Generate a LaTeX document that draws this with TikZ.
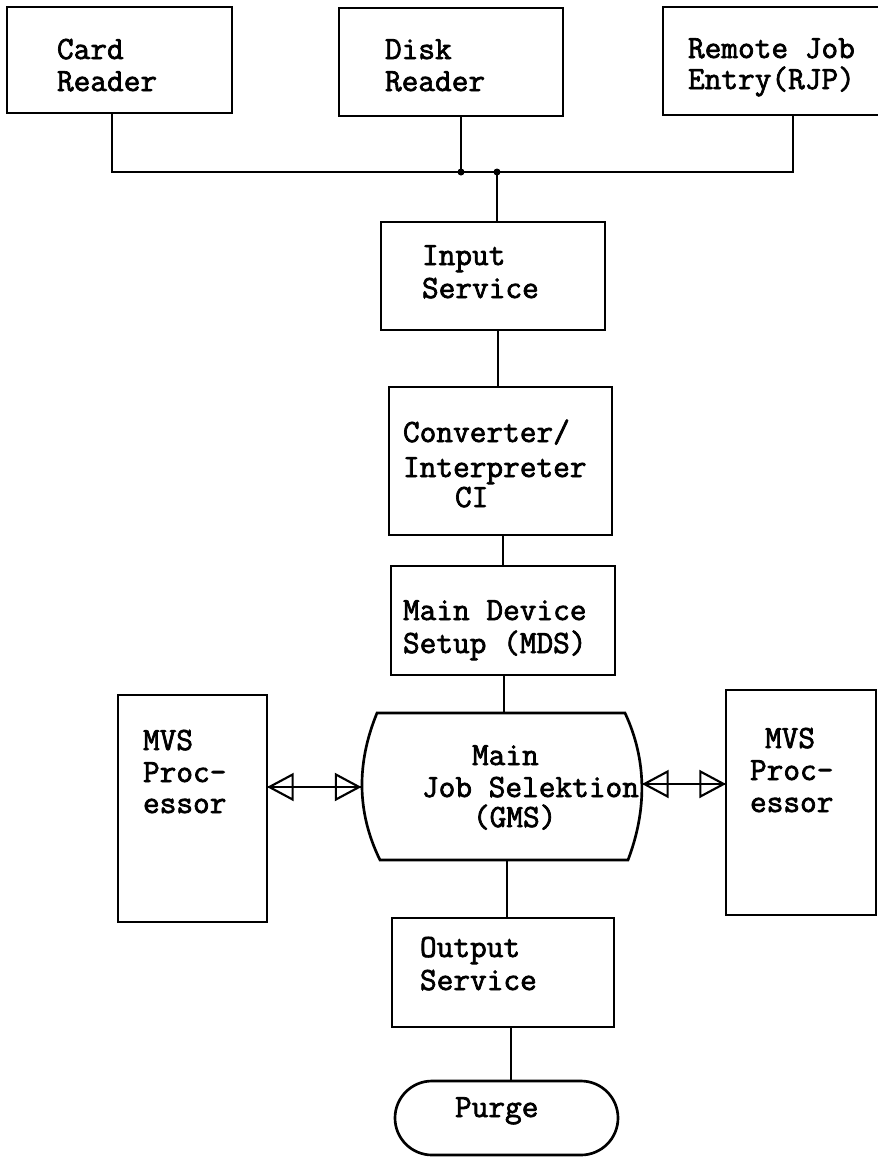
\documentclass[tikz,border=0pt]{standalone}
\usepackage{fontspec}
\usetikzlibrary{arrows.meta,calc}
\newfontfamily\twfam{Latin Modern Mono}[BoldFont={Latin Modern Mono}, BoldFeatures={FakeBold=2.2}]
\newcommand\twfont{\twfam\bfseries\fontsize{24.3}{28}\selectfont}
\newcommand\mkbox[5]{\node[boxst, minimum width={(#4-#2)*0.75pt}, minimum height={(#5-#3)*0.75pt}] (#1) at ({(#2+#4)/2},{(#3+#5)/2}) {};}
\tikzset{
  boxst/.style={draw, rectangle, inner sep=0pt, outer sep=0pt},
  tx/.style={anchor=base west, inner sep=0pt, outer sep=0pt, font=\twfont},
  tri/.tip={Triangle[open, length=20pt, width=21pt, line width=1.6pt]},
  dbl/.style={tri-tri},
}
\begin{document}
\begin{tikzpicture}[x=0.75pt, y=-0.75pt, line width=2pt, line join=miter]
\useasboundingbox (0,0) rectangle (878,1157);
\fill[white] (0,0) rectangle (878,1157);

% boxes
\mkbox{card}{7}{7}{232}{113}
\mkbox{disk}{339}{8}{563}{116}
\mkbox{rje}{663}{7}{892}{115}
\mkbox{inp}{381}{222}{605}{330}
\mkbox{ci}{389}{387}{612}{535}
\mkbox{mds}{391}{566}{615}{675}
\mkbox{mvsL}{118}{695}{267}{922}
\mkbox{mvsR}{726}{690}{876}{915}
\mkbox{out}{392}{918}{614}{1027}
\node[draw, rectangle, rounded corners=27.75pt, inner sep=0pt, outer sep=0pt,
      minimum width={223*0.75pt}, minimum height={74*0.75pt}] (purge) at (506.5,1118) {};

% Main Job Selektion shape
\node[inner sep=0pt, outer sep=0pt, minimum width={280*0.75pt}, minimum height={147*0.75pt}] (gms) at (502,786.5) {};
\coordinate (gl) at (361.5,787);
\coordinate (gr) at (642,784);
\draw (377,713) -- (625,713) .. controls (647,760) and (647,810) .. (628,860)
      -- (380,860) .. controls (356.5,812) and (356.5,763) .. (377,713) -- cycle;

% texts
\node[tx] (t1) at (57,59) {Card};
\node[tx] (t2) at (57,91) {Reader};
\node[tx] (t3) at (385,59) {Disk};
\node[tx] (t4) at (385,91) {Reader};
\node[tx] (t5) at (688,58) {Remote Job};
\node[tx] (t6) at (688,89) {Entry(RJP)};
\node[tx] (t7) at (422,265) {Input};
\node[tx] (t8) at (422,298) {Service};
\node[tx] (t9) at (403,442) {Converter/};
\node[tx] (t10) at (403,477) {Interpreter};
\node[tx] (t11) at (455,507) {CI};
\node[tx] (t12) at (403,620) {Main Device};
\node[tx] (t13) at (403,653) {Setup (MDS)};
\node[tx] (t14) at (472,765) {Main};
\node[tx] (t15) at (422,797) {Job Selektion};
\node[tx] (t16) at (473,827) {(GMS)};
\node[tx] (t17) at (143,750) {MVS};
\node[tx] (t18) at (143,782) {Proc-};
\node[tx] (t19) at (143,813) {essor};
\node[tx] (t20) at (765,748) {MVS};
\node[tx] (t21) at (750,780) {Proc-};
\node[tx] (t22) at (750,812) {essor};
\node[tx] (t23) at (420,957) {Output};
\node[tx] (t24) at (420,990) {Service};
\node[tx] (t25) at (455,1117) {Purge};

% bus
\coordinate (busL) at (112,172);
\coordinate (busR) at (793,172);
\coordinate (j1) at (461,172);
\coordinate (j2) at (497,172);
\draw (card.south -| busL) -- (busL) -- (busR) -- (rje.south -| busR);
\draw (disk.south -| j1) -- (j1);
\draw (j2) -- (inp.north -| j2);
\fill (j1) circle (3.5);
\fill (j2) circle (3.5);

% vertical chain
\draw (inp.south -| 498,0) -- (ci.north -| 498,0);
\draw (ci.south -| 503,0) -- (mds.north -| 503,0);
\draw (mds.south -| 504,0) -- (gms.north -| 504,0);
\draw (gms.south -| 507,0) -- (out.north -| 507,0);
\draw (out.south -| 511,0) -- (purge.north -| 511,0);

% double arrows
\draw (mvsL.east |- gl) -- (gl);
\draw[dbl] (mvsL.east |- gl) -- (gl);
\draw (gr) -- (mvsR.west |- gr);
\draw[dbl] (gr) -- (mvsR.west |- gr);
\end{tikzpicture}
\end{document}
